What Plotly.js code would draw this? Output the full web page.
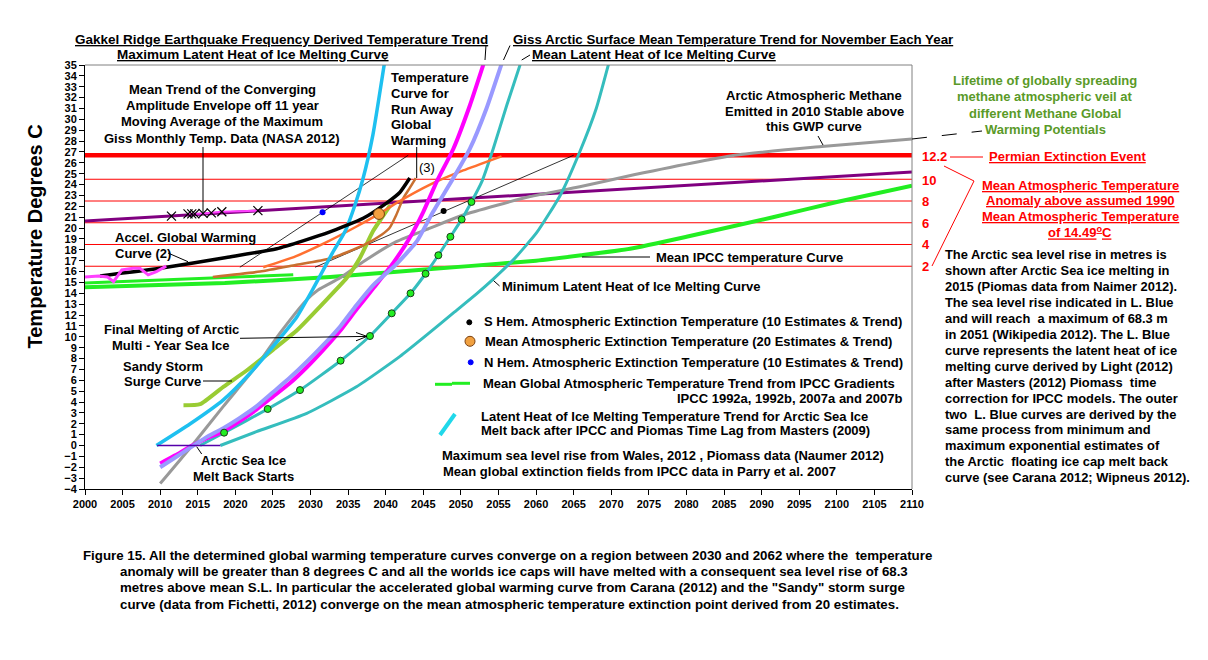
<!DOCTYPE html>
<html><head><meta charset="utf-8">
<script src="https://cdn.plot.ly/plotly-3.0.1.min.js"></script>
<style>html,body{margin:0;padding:0;background:#fff}#chart{width:1208px;height:660px}</style>
</head><body><div id="chart"></div>
<script>
// ================= DATA =================
const xTickYears = [2000,2005,2010,2015,2020,2025,2030,2035,2040,2045,2050,2055,2060,2065,2070,2075,2080,2085,2090,2095,2100,2105,2110];
const baseline1990 = 14.49;
const anomalyLevels = [2, 4, 6, 8, 10];
const permianAnomaly = 12.2;
const lineSpanYears = [2000, 2110];

const methaneVeilYears = [2000, 2110];
const methaneVeilTemps = [20.65, 25.15];

const gissMonthlyYears = [2000, 2001.8, 2003.0, 2003.8, 2004.9, 2006.4, 2007.3, 2008.4, 2009.5, 2010.8];
const gissMonthlyTemps = [15.5, 15.6, 15.5, 15.07, 16.15, 16.3, 16.3, 15.7, 16.0, 16.5];

const gissMaxYears = [2011.5, 2013.7, 2014.2, 2014.6, 2015.7, 2016.8, 2018.2, 2023.0];
const gissMaxTemps = [21.1, 21.3, 21.3, 21.3, 21.35, 21.4, 21.5, 21.6];

const ipccShortYears = [2000, 2027.7];
const ipccShortTemps = [14.95, 15.7];

const ipccMeanYears = [2000, 2018.6, 2032.6, 2041.9, 2051, 2060, 2066, 2072.5, 2080, 2091.5, 2100, 2110];
const ipccMeanTemps = [14.55, 14.95, 15.5, 16.0, 16.5, 17.0, 17.5, 18.1, 19.2, 21.0, 22.4, 23.9];

const accelYears = [2002, 2010, 2018.8, 2025.5, 2032.4, 2037, 2040.1, 2041.9, 2043.2];
const accelTemps = [15.6, 16.3, 17.3, 18.1, 19.6, 20.9, 22.3, 23.3, 24.6];

const meanExtYears = [2023.7, 2028, 2032.4, 2036, 2039.1, 2041.4, 2045.9, 2050.3, 2055.4];
const meanExtTemps = [16.4, 17.4, 18.8, 20.1, 21.3, 22.3, 24.0, 25.3, 26.6];

const runawayYears = [2017, 2023.3, 2028, 2032.6, 2037, 2039.5, 2040.5, 2041.4, 2042.3, 2043.2, 2044.0];
const runawayTemps = [15.5, 16.0, 16.6, 17.2, 18.4, 19.4, 20.0, 21.2, 22.7, 23.7, 24.6];

const sandyYears = [2013.1, 2015.3, 2018.4, 2021.5, 2025.0, 2028.2, 2031.7, 2034.8, 2036.6, 2038.3, 2040.6];
const sandyTemps = [3.7, 3.8, 5.4, 6.9, 8.8, 10.6, 13.1, 15.4, 17.3, 19.7, 22.1];

const maxLatentYears = [2009.5, 2014, 2018.4, 2021.9, 2025, 2028.2, 2030.4, 2032.9, 2034.6, 2035.9, 2037, 2038.3, 2039.9];
const maxLatentTemps = [0, 2.0, 4.2, 6.6, 9.1, 11.85, 14.5, 17.7, 19.7, 22.1, 24.6, 28.6, 35.5];

const gakkelYears = [2010, 2012, 2014, 2016, 2018.4, 2020.5, 2022.8, 2025, 2027.2, 2029.5, 2031.7, 2034, 2036.1, 2038.4, 2041, 2043.1, 2045, 2046.8, 2049, 2051.2, 2053.2];
const gakkelTemps = [-1.65, -0.9, -0.1, 0.6, 1.3, 2.2, 3.3, 4.5, 5.7, 7.2, 8.8, 10.6, 12.5, 14.5, 16.8, 19.0, 21.5, 24.3, 27.3, 31.3, 35.5];

const gissNovYears = [2010, 2012, 2014, 2016, 2018.4, 2020.5, 2022.8, 2025, 2027.2, 2029.5, 2031.7, 2034, 2036.1, 2038.4, 2041.3, 2044.1, 2046.3, 2049, 2051.2, 2053.4, 2055.6];
const gissNovTemps = [-2.0, -1.1, -0.2, 0.7, 1.6, 2.5, 3.6, 4.9, 6.2, 7.7, 9.25, 11.0, 12.9, 14.8, 16.6, 18.75, 21.5, 24.6, 27.3, 31.0, 35.5];

const meanLatentYears = [2015.3, 2018.5, 2024.3, 2028.6, 2034.0, 2037.9, 2040.8, 2043.3, 2045.3, 2047.0, 2048.6, 2050.1, 2051.4, 2052.8, 2054.3, 2056.1, 2058.1];
const meanLatentTemps = [0, 1.18, 3.36, 5.1, 7.8, 10.07, 12.16, 14.0, 15.8, 17.5, 19.2, 20.8, 22.4, 24.3, 27.3, 31.3, 35.5];

const seaLevelYears = [2018.5, 2024.3, 2028.6, 2034.0, 2037.9, 2040.8, 2043.3, 2045.3, 2047.0, 2048.6, 2050.1, 2051.4];
const seaLevelTemps = [1.18, 3.36, 5.1, 7.8, 10.07, 12.16, 14.0, 15.8, 17.5, 19.2, 20.8, 22.4];

const minLatentYears = [2018, 2022.8, 2029.5, 2036.1, 2041.9, 2045.5, 2049, 2052, 2054.3, 2057, 2060.1, 2063.2, 2065.8, 2068, 2069.8];
const minLatentTemps = [0, 1.27, 2.96, 5.4, 8.2, 10.2, 12.2, 13.9, 15.3, 17.1, 19.6, 23.0, 27.0, 31.0, 35.5];

const methaneGwpYears = [2010, 2014, 2018.4, 2022.8, 2025.9, 2029.5, 2031, 2033.9, 2037, 2041.4, 2045.9, 2050.3, 2054.8, 2059.2, 2065.8, 2073, 2086.4, 2098, 2110];
const methaneGwpTemps = [-3.5, -0.2, 3.6, 7.3, 10.3, 13.4, 14.3, 15.4, 16.9, 18.75, 20.0, 21.2, 22.1, 22.9, 23.8, 24.9, 26.7, 27.5, 28.2];

const meltBackYears = [2009.6, 2018.0];
const meltBackTemps = [0, 0];

const nHemTrendYears = [2020.6, 2043.0];
const nHemTrendTemps = [16.4, 26.7];
const sHemTrendYears = [2030.6, 2065.0];
const sHemTrendTemps = [16.4, 26.7];

const nHemPointYears = [2031.6];
const nHemPointTemps = [21.46];
const sHemPointYears = [2047.7];
const sHemPointTemps = [21.57];
const meanExtPointYears = [2039.1];
const meanExtPointTemps = [21.3];

// ================= LAYOUT HELPERS =================
const W = 1208, H = 660;
const L = 85, R = 912, T = 65, B = 489;
const fx = p => (p - L) / (R - L);
const fy = p => (B - p) / (B - T);
const FONT = 'Liberation Sans, Arial, sans-serif';

const traces = [];
function line(xs, ys, color, width, extra) {
  traces.push(Object.assign({type: 'scatter', mode: 'lines', x: xs, y: ys,
    line: {color: color, width: width}, hoverinfo: 'skip'}, extra || {}));
}
function smooth(xs, ys, color, width) {
  line(xs, ys, color, width, {line: {color: color, width: width, shape: 'spline', smoothing: 0.5}});
}

// red reference lines
anomalyLevels.forEach(a => line(lineSpanYears, lineSpanYears.map(() => baseline1990 + a), '#ff0000', 1));
line(lineSpanYears, lineSpanYears.map(() => baseline1990 + permianAnomaly), '#ff0000', 4.5);

line(methaneVeilYears, methaneVeilTemps, '#800080', 3);
line(ipccShortYears, ipccShortTemps, '#22ee22', 3);
smooth(ipccMeanYears, ipccMeanTemps, '#22ee22', 4);
smooth(methaneGwpYears, methaneGwpTemps, '#999999', 3);
line(nHemTrendYears, nHemTrendTemps, '#000000', 0.8);
line(sHemTrendYears, sHemTrendTemps, '#000000', 0.8);
smooth(minLatentYears, minLatentTemps, '#35bdbd', 3);
smooth(meanLatentYears, meanLatentTemps, '#35bdbd', 3);
smooth(sandyYears, sandyTemps, '#99cc33', 4);
smooth(runawayYears, runawayTemps, '#c87030', 2.5);
smooth(meanExtYears, meanExtTemps, '#ff7030', 2.5);
smooth(maxLatentYears, maxLatentTemps, '#1ec0f0', 3.5);
smooth(gakkelYears, gakkelTemps, '#ff00ff', 4);
smooth(gissNovYears, gissNovTemps, '#9999ff', 4);
smooth(accelYears, accelTemps, '#000000', 3.5);
line(gissMonthlyYears, gissMonthlyTemps, '#ff40ff', 3);
line(gissMaxYears.slice(1), gissMaxTemps.slice(1), '#ff40ff', 2);
line(meltBackYears, meltBackTemps, '#5500aa', 1.5);

traces.push({type: 'scatter', mode: 'markers', x: gissMaxYears, y: gissMaxTemps, hoverinfo: 'skip',
  marker: {symbol: 'x-thin-open', size: 9, color: '#000', line: {color: '#000', width: 1.2}}});
traces.push({type: 'scatter', mode: 'markers', x: seaLevelYears, y: seaLevelTemps, hoverinfo: 'skip',
  marker: {symbol: 'circle', size: 7, color: '#22ee22', line: {color: '#1a3a1a', width: 1}}});
traces.push({type: 'scatter', mode: 'markers', x: nHemPointYears, y: nHemPointTemps, hoverinfo: 'skip',
  marker: {size: 6, color: '#0000ff'}});
traces.push({type: 'scatter', mode: 'markers', x: sHemPointYears, y: sHemPointTemps, hoverinfo: 'skip',
  marker: {size: 6, color: '#000000'}});
traces.push({type: 'scatter', mode: 'markers', x: meanExtPointYears, y: meanExtPointTemps, hoverinfo: 'skip',
  marker: {size: 11, color: '#f4a040', line: {color: '#7a4010', width: 1}}});

// ================= ANNOTATIONS =================
const anns = [];
function txt(text, x, y, opt) {
  opt = opt || {};
  anns.push({xref: 'paper', yref: 'paper', x: fx(x), y: fy(y), text: text, showarrow: false,
    xanchor: opt.anchor || 'left', yanchor: 'middle', textangle: opt.angle || 0,
    font: {family: opt.family || FONT, size: opt.size || 13, color: opt.color || '#000',
      weight: opt.weight || 'bold', lineposition: opt.under ? 'under' : 'none'}});
}
function block(lines, x, y0, dy, opt) { lines.forEach((t, i) => txt(t, x, y0 + i * dy, opt)); }

txt('Gakkel Ridge Earthquake Frequency Derived Temperature Trend', 73, 39.7, {under: true, size: 13.5});
txt('Maximum Latent Heat of Ice Melting Curve', 115, 54.3, {under: true, size: 13.5});
txt('Giss Arctic Surface Mean Temperature Trend for November Each Year', 511, 39.7, {under: true, size: 13.3});
txt('Mean Latent Heat of Ice Melting Curve', 530, 54.3, {under: true, size: 13.5});

block(['Mean Trend of the Converging', 'Amplitude Envelope off 11 year', 'Moving Average of the Maximum', 'Giss Monthly Temp. Data (NASA 2012)'], 222, 89.3, 16.3, {anchor: 'center'});
block(['Temperature', 'Curve for', 'Run Away', 'Global', 'Warming'], 389, 77.3, 15.9);
txt('(3)', 427, 167, {weight: 'normal', size: 13, anchor: 'center'});
block(['Arctic Atmospheric Methane', 'Emitted in 2010 Stable above', 'this GWP curve'], 814, 95.7, 15.5, {anchor: 'center'});
block(['Lifetime of globally spreading', 'methane atmospheric veil at', 'different Methane Global', 'Warming Potentials'], 1045, 80.7, 16.2, {anchor: 'center', color: '#5a9a28'});

txt('12.2', 920, 156.7, {color: '#ff0000', size: 13});
const rightNums = ['10', '8', '6', '4', '2'];
const rightNumY = [180, 201.7, 223.3, 244.3, 266.7];
rightNums.forEach((t, i) => txt(t, 920, rightNumY[i], {color: '#ff0000', size: 13}));
txt('Permian Extinction Event', 987, 156.7, {color: '#ff0000', under: true});
block(['Mean Atmospheric Temperature', 'Anomaly above assumed 1990', 'Mean Atmospheric Temperature', 'of 14.49<sup>o</sup>C'], 1080, 185, 15.8, {anchor: 'center', color: '#ff0000', under: true});

block(['The Arctic sea level rise in metres is', 'shown after Arctic Sea ice melting in', '2015 (Piomas data from Naimer 2012).',
  'The sea level rise indicated in L. Blue', 'and will reach  a maximum of 68.3 m', 'in 2051 (Wikipedia 2012). The L. Blue',
  'curve represents the latent heat of ice', 'melting curve derived by Light (2012)', 'after Masters (2012) Piomass  time',
  'correction for IPCC models. The outer', 'two  L. Blue curves are derived by the', 'same process from minimum and',
  'maximum exponential estimates of', 'the Arctic  floating ice cap melt back', 'curve (see Carana 2012; Wipneus 2012).'],
  943, 255, 15.9, {size: 12.9});

block(['Accel. Global Warming', 'Curve (2)'], 113, 237.3, 16);
txt('Mean IPCC temperature Curve', 654, 257);
txt('Minimum Latent Heat of Ice Melting Curve', 500, 286);

txt('S Hem. Atmospheric Extinction Temperature (10 Estimates & Trend)', 481.7, 321.7);
txt('Mean Atmospheric Extinction Temperature (20 Estimates & Trend)', 483.3, 341.7);
txt('N Hem. Atmospheric Extinction Temperature (10 Estimates & Trend)', 481.7, 362.7);
txt('Mean Global Atmospheric Temperature Trend from IPCC Gradients', 480.7, 383.3);
txt('IPCC 1992a, 1992b, 2007a and 2007b', 905, 398.3, {anchor: 'right'});
txt('Latent Heat of Ice Melting Temperature Trend for Arctic Sea Ice', 479.3, 416.7);
txt('Melt back after IPCC and Piomas Time Lag from Masters (2009)', 478.7, 430.7);
txt('Maximum sea level rise from Wales, 2012 , Piomass data (Naumer 2012)', 440, 455.7);
txt('Mean global extinction fields from IPCC data in Parry et al. 2007', 440.7, 471.7);

block(['Final Melting of Arctic', 'Multi - Year Sea Ice'], 171, 329.3, 16, {anchor: 'center'});
block(['Sandy Storm', 'Surge Curve'], 162.5, 366.7, 14.5, {anchor: 'center'});
block(['Arctic Sea Ice', 'Melt Back Starts'], 243.5, 460.7, 15.5, {anchor: 'center'});

txt('Temperature Degrees C', 35, 236.5, {anchor: 'center', angle: -90, size: 20});

const capOpt = {size: 13.3};
txt('Figure 15. All the determined global warming temperature curves converge on a region between 2030 and 2062 where the  temperature', 80.7, 555, capOpt);
txt('anomaly will be greater than 8 degrees C and all the worlds ice caps will have melted with a consequent sea level rise of 68.3', 118.3, 571.5, capOpt);
txt('metres above mean S.L. In particular the accelerated global warming curve from Carana (2012) and the "Sandy" storm surge', 118.3, 587.7, capOpt);
txt('curve (data from Fichetti, 2012) converge on the mean atmospheric temperature extinction point derived from 20 estimates.', 118.3, 604, capOpt);

// ================= SHAPES =================
const shapes = [];
function seg(x0, y0, x1, y1, color, width, dash) {
  shapes.push({type: 'line', xref: 'paper', yref: 'paper', x0: fx(x0), y0: fy(y0), x1: fx(x1), y1: fy(y1),
    line: {color: color || '#000', width: width || 1, dash: dash || 'solid'}});
}
function dot(x, y, r, fill, edge) {
  shapes.push({type: 'circle', xref: 'paper', yref: 'paper', x0: fx(x - r), x1: fx(x + r), y0: fy(y + r), y1: fy(y - r),
    fillcolor: fill, line: {color: edge || fill, width: 1}});
}
// frame (top & right)
seg(L, T, R, T, '#808080', 1);
seg(R, T, R, B, '#808080', 1);
// leader lines
seg(486, 45, 485, 60);
seg(384, 58, 386, 61);
seg(510, 45.5, 503.5, 60);
seg(530, 55, 521.7, 60);
seg(203, 147, 203, 212);
seg(416.7, 147, 416.7, 178);
seg(168, 253, 188, 261.7);
seg(203, 381, 232, 381);
seg(201.7, 454, 196.7, 446.7);
seg(582, 257, 650, 257);
seg(493.6, 280.7, 499.6, 286);
seg(818, 136, 823, 145);
seg(912, 139, 982, 131, '#000', 1, 'longdash');
seg(950, 157, 983, 157, '#ff0000', 1);
seg(944, 166, 974, 181, '#ff0000', 1);
seg(974, 181, 932, 266, '#ff0000', 1);
// Final melting arrow
seg(240, 338.3, 367, 336.4);
seg(367, 336.4, 356, 332.5);
seg(367, 336.4, 356, 340.8);
// legend swatches
dot(469.3, 322.3, 2.5, '#000000');
dot(470, 341.3, 5, '#f0a040', '#7a4010');
dot(470.7, 362.3, 2.5, '#0000ff');
seg(435, 384.3, 452, 384.3, '#22ee22', 3);
seg(452, 383.3, 470, 383.3, '#22ee22', 3);
seg(440, 435, 455, 414, '#20d8ea', 4);

const tickFont = {family: FONT, size: 11, color: '#000', weight: 'bold'};
const layout = {
  width: W, height: H, autosize: false,
  margin: {l: L, r: W - R, t: T, b: H - B, pad: 0},
  paper_bgcolor: '#ffffff', plot_bgcolor: '#ffffff',
  showlegend: false,
  xaxis: {range: [2000, 2110], tickmode: 'array', tickvals: xTickYears, ticktext: xTickYears.map(String),
    ticks: 'outside', ticklen: 5, tickcolor: '#000', showline: true, linecolor: '#000', linewidth: 1,
    showgrid: false, zeroline: false, tickfont: tickFont, fixedrange: true},
  yaxis: {range: [-4, 35], tickmode: 'linear', tick0: -4, dtick: 1,
    ticks: 'outside', ticklen: 5, tickcolor: '#000', showline: true, linecolor: '#000', linewidth: 1,
    showgrid: false, zeroline: false, tickfont: tickFont, fixedrange: true},
  annotations: anns,
  shapes: shapes
};
Plotly.newPlot('chart', traces, layout, {staticPlot: true, displayModeBar: false});
</script>
</body></html>
